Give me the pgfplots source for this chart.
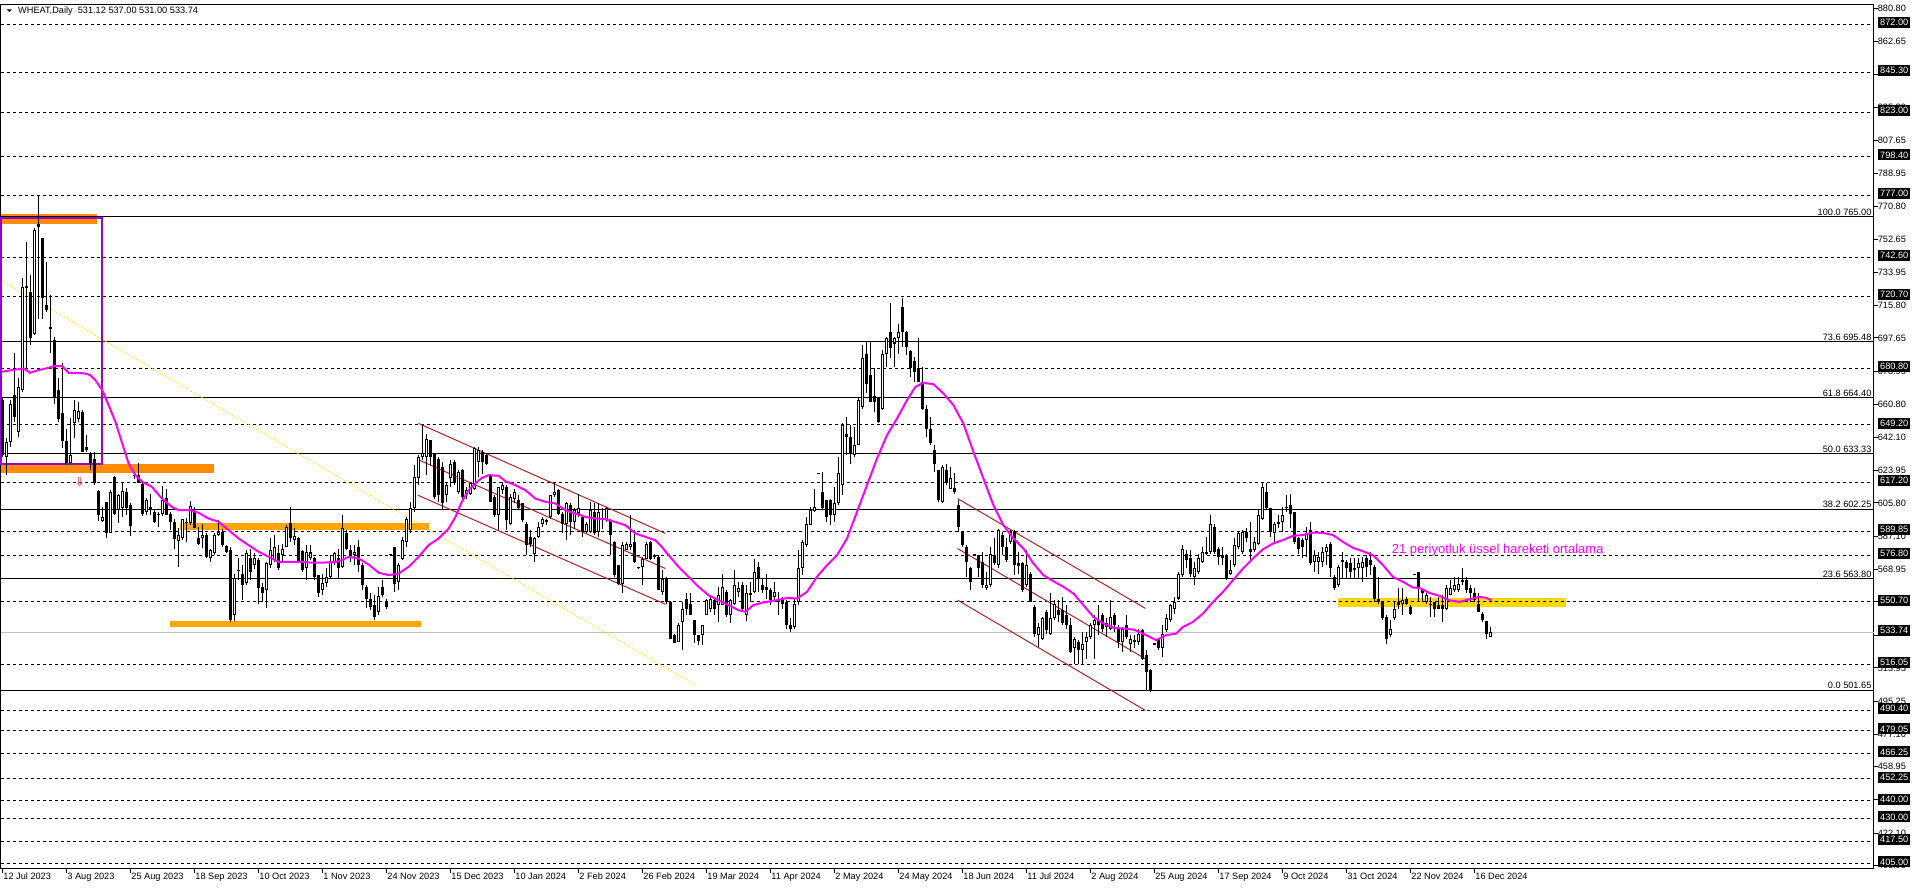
\documentclass[border=0pt]{standalone}
\usepackage{fontspec}
\setmainfont{Liberation Sans}
\newfontfamily\symfont{DejaVu Sans}
\usepackage{pgfplots}
\usepackage{pgfplotstable}
\pgfplotsset{compat=1.18}

\definecolor{ema}{HTML}{FF00FF}
\definecolor{dorange}{HTML}{FF8C00}
\definecolor{lorange}{HTML}{FFA500}
\definecolor{gold}{HTML}{FFD700}
\definecolor{purp}{HTML}{9400D3}
\definecolor{chan}{HTML}{B22222}
\definecolor{lastgray}{HTML}{C0C0C0}
\newcommand\lab{\fontsize{9.2}{10}\selectfont}
\tikzset{
  hline/.style={black, line width=1pt, dash pattern=on 3pt off 3pt},
  fibline/.style={black, line width=1pt},
  boxlab/.style={anchor=west, fill=black, text=white, font=\lab, inner xsep=2pt, inner ysep=0pt, minimum height=11pt, xshift=3pt},
  fiblab/.style={anchor=south east, inner sep=1pt, font=\lab, xshift=-1pt},
}

% daily candles: bar index, open, high, low, close
\pgfplotstableread{
i o h l c
0 663.0 663.9 631.5 632.4
1 631.5 642.0 621.6 639.8
2 639.8 663.0 637.0 661.1
3 665.8 689.0 650.9 653.7
4 645.4 675.1 642.6 670.4
5 668.6 730.7 667.6 726.0
6 726.4 751.1 680.6 725.5
7 723.3 732.6 693.6 697.3
8 699.7 758.5 699.2 757.6
9 760.8 777.1 708.0 759.5
10 753.3 753.3 708.4 719.6
11 716.2 740.0 712.2 713.1
12 702.7 721.4 689.0 703.8
13 696.4 698.2 661.1 663.9
14 668.6 675.1 650.9 652.4
15 655.9 683.4 636.1 640.4
16 640.2 647.2 626.8 627.8
17 627.8 652.8 626.8 632.4
18 650.0 663.0 641.7 657.4
19 652.4 662.1 650.9 656.9
20 656.5 657.4 633.9 634.2
21 636.7 643.5 634.2 635.5
22 633.3 634.0 624.0 627.8
23 630.5 634.2 615.7 616.6
24 612.3 612.9 595.7 599.0
25 595.7 603.6 595.4 598.1
26 606.4 606.4 586.0 589.3
27 589.3 612.9 588.8 612.0
28 620.3 620.5 599.0 599.9
29 601.8 611.0 594.4 610.1
30 602.7 617.6 598.1 612.3
31 611.6 614.2 599.0 602.7
32 604.6 605.5 587.5 593.1
33 620.5 622.0 619.0 620.8
34 621.3 628.1 616.6 616.6
35 616.1 616.6 598.6 599.9
36 600.9 608.3 599.0 607.3
37 603.6 611.0 599.0 601.8
38 600.9 601.8 594.4 594.9
39 599.9 600.9 592.5 599.0
40 599.4 615.3 598.6 607.3
41 608.3 613.8 599.0 599.0
42 599.6 600.9 590.7 595.4
43 594.9 597.1 580.4 585.6
44 584.5 591.6 570.2 587.9
45 586.4 597.1 585.1 596.8
46 595.4 597.5 583.8 594.4
47 594.4 606.8 593.4 604.2
48 600.5 603.6 591.6 591.6
49 586.4 592.5 582.3 583.2
50 586.4 593.8 580.8 588.2
51 588.2 588.8 574.9 575.8
52 575.3 580.4 573.0 579.5
53 577.7 588.8 576.7 587.9
54 588.2 596.2 587.5 589.7
55 589.7 591.0 581.5 582.3
56 581.7 582.3 577.7 578.2
57 579.5 581.4 539.6 540.6
58 543.3 566.5 540.0 563.8
59 567.8 574.9 562.8 568.4
60 566.5 571.2 551.7 560.0
61 561.0 579.5 560.0 577.7
62 574.9 580.4 562.8 567.5
63 571.2 578.0 569.0 575.3
64 574.0 574.9 549.8 558.2
65 559.1 561.0 550.8 555.4
66 557.3 573.0 547.4 572.1
67 571.2 586.0 569.3 579.5
68 574.0 587.9 573.0 581.4
69 577.7 582.3 568.4 569.3
70 576.7 583.2 573.0 580.4
71 581.4 593.4 581.4 592.5
72 594.4 603.6 584.2 586.0
73 585.1 591.6 582.3 587.5
74 586.4 586.9 572.1 573.0
75 579.0 579.5 567.5 568.4
76 569.3 582.3 562.8 578.6
77 575.3 582.3 574.0 578.2
78 574.9 575.8 562.8 564.7
79 565.6 565.6 553.5 555.4
80 557.3 566.5 554.5 561.0
81 561.0 569.3 559.1 564.7
82 564.7 576.7 563.8 573.0
83 572.1 578.6 571.2 577.7
84 575.3 580.4 563.8 569.3
85 570.2 599.0 569.3 591.6
86 588.8 590.7 579.5 580.4
87 579.5 582.3 573.0 576.7
88 576.7 582.3 571.2 578.6
89 581.4 585.1 567.5 571.2
90 571.2 572.1 557.3 560.0
91 559.1 560.0 547.1 552.6
92 552.6 555.4 546.0 548.0
93 548.9 554.5 540.6 542.4
94 545.2 559.1 543.3 554.1
95 559.1 562.8 553.5 554.4
96 551.1 552.6 547.0 547.9
97 576.9 577.5 576.2 576.7
98 581.3 581.5 556.3 560.9
99 561.9 572.1 557.2 571.1
100 574.8 586.9 573.9 585.0
101 584.1 598.0 581.3 597.1
102 590.6 606.4 588.8 602.7
103 602.7 626.8 600.8 620.3
104 619.4 632.4 615.7 631.4
105 631.4 649.0 629.6 633.3
106 631.4 644.4 621.2 641.6
107 640.7 641.0 626.8 631.4
108 633.3 633.5 608.2 609.2
109 630.5 631.4 606.4 610.1
110 625.8 628.6 601.7 605.5
111 610.1 616.6 606.4 615.7
112 619.4 629.6 614.7 627.7
113 628.6 629.6 615.7 616.6
114 612.0 624.0 611.0 623.1
115 624.0 624.9 608.2 609.2
116 610.1 614.7 608.2 612.9
117 611.0 617.5 610.1 616.6
118 613.8 637.0 612.9 636.1
119 628.6 637.0 620.3 635.1
120 634.2 635.1 622.1 628.6
121 632.4 633.3 626.8 627.7
122 621.2 622.1 606.4 606.4
123 609.2 610.1 598.0 599.0
124 599.0 614.7 590.6 614.7
125 612.9 617.5 611.0 615.7
126 614.7 615.7 590.6 596.2
127 594.3 611.0 593.4 609.2
128 608.2 613.8 605.5 612.0
129 607.3 610.1 601.7 602.7
130 605.5 605.5 595.2 596.2
131 594.3 595.2 576.7 582.3
132 586.9 590.6 581.3 583.2
133 577.6 586.9 573.0 586.0
134 586.9 595.2 586.0 592.5
135 594.3 598.0 592.5 597.1
136 596.2 597.1 593.4 595.0
137 598.0 610.1 597.1 610.1
138 610.1 617.5 609.2 612.0
139 612.9 613.8 599.0 599.9
140 599.9 600.8 588.8 594.3
141 594.3 606.4 585.0 605.5
142 604.5 605.5 587.8 595.2
143 595.2 602.7 591.5 601.7
144 599.9 611.0 598.0 602.7
145 598.0 599.0 586.9 589.7
146 589.7 595.2 588.8 594.3
147 589.7 606.4 588.8 601.7
148 600.8 605.5 587.8 588.8
149 589.7 605.5 586.9 600.8
150 597.1 602.7 591.5 596.2
151 596.2 603.6 595.2 602.7
152 596.2 597.1 576.7 587.8
153 584.1 584.5 564.6 565.6
154 571.1 571.5 560.0 560.9
155 560.9 584.1 555.4 582.3
156 579.5 584.1 579.5 583.2
157 581.3 599.0 579.5 583.2
158 584.1 590.6 572.1 573.0
159 569.5 569.8 569.0 569.3
160 570.2 575.8 560.0 574.8
161 574.8 584.1 574.8 583.2
162 584.1 584.5 573.9 574.8
163 576.7 577.6 574.8 575.8
164 575.8 576.7 557.2 557.2
165 556.3 568.4 554.4 563.7
166 563.7 564.6 549.8 550.7
167 550.7 551.1 530.3 530.3
168 532.2 533.0 528.1 528.1
169 528.5 538.7 528.5 537.7
170 539.6 550.7 523.8 547.0
171 552.6 555.4 543.3 547.0
172 549.8 555.4 543.3 543.3
173 540.5 540.5 528.1 532.2
174 532.2 532.5 527.0 528.8
175 532.2 537.7 526.6 537.7
176 543.3 552.6 543.3 551.6
177 547.0 553.5 545.2 552.6
178 551.6 552.6 543.3 547.0
179 548.9 559.1 539.6 554.4
180 548.9 566.5 548.9 559.1
181 556.3 557.2 542.4 543.3
182 543.3 552.6 538.7 551.6
183 549.8 568.4 548.9 560.0
184 556.3 561.9 553.5 558.2
185 560.0 561.9 545.2 547.0
186 543.3 560.0 540.0 555.4
187 554.4 561.9 550.7 555.4
188 556.3 574.8 555.4 567.4
189 570.2 573.0 556.3 563.7
190 560.0 563.7 555.4 557.2
191 559.1 566.5 552.6 557.2
192 557.2 558.2 548.9 551.7
193 553.5 561.9 551.7 556.3
194 551.7 556.3 543.3 550.7
195 552.6 553.5 547.0 549.8
196 550.7 551.7 535.9 537.7
197 537.7 541.5 534.0 535.9
198 536.8 552.6 535.9 549.8
199 550.7 579.5 548.9 569.3
200 569.3 585.1 565.6 584.1
201 582.3 598.0 581.3 594.3
202 593.4 603.6 593.4 601.8
203 601.2 613.8 600.8 603.6
204 622.0 622.4 621.8 622.2
205 611.9 623.1 602.4 602.7
206 607.3 607.3 595.3 598.0
207 607.3 608.2 593.4 599.0
208 599.0 614.7 595.3 605.5
209 605.5 631.4 604.5 622.2
210 615.7 650.0 610.1 649.0
211 644.4 653.7 632.4 642.6
212 642.6 649.0 627.7 633.3
213 632.4 648.1 631.4 637.9
214 637.9 663.9 637.9 663.0
215 659.3 693.6 658.3 686.2
216 688.9 695.4 666.7 672.2
217 676.9 695.4 662.0 662.0
218 665.4 680.6 656.5 661.7
219 663.9 664.8 650.0 650.9
220 658.3 690.8 657.4 688.9
221 688.9 698.2 681.5 697.3
222 701.0 716.8 686.2 692.1
223 694.5 698.2 681.5 697.3
224 697.6 705.6 688.9 701.0
225 714.9 719.9 692.6 701.0
226 701.0 701.4 688.0 692.6
227 690.2 690.8 675.9 680.6
228 684.7 687.1 673.2 678.7
229 681.0 697.6 673.2 673.2
230 673.2 681.5 657.4 658.3
231 658.3 660.2 642.6 647.2
232 647.2 653.7 637.9 639.4
233 635.1 637.9 623.1 627.7
234 624.0 624.0 606.4 607.3
235 606.4 626.8 605.5 625.9
236 624.0 627.2 615.7 616.6
237 613.8 625.9 613.8 619.4
238 614.2 622.2 611.0 611.9
239 604.5 607.3 589.7 592.5
240 589.7 589.7 581.3 582.3
241 581.3 582.3 564.7 573.0
242 569.3 570.2 557.2 561.9
243 576.9 577.0 576.5 576.7
244 576.7 576.7 564.7 569.3
245 573.0 578.6 558.2 560.0
246 558.2 567.4 557.2 560.0
247 560.0 581.3 559.1 577.6
248 576.7 586.0 571.1 572.1
249 571.1 591.5 569.3 590.6
250 587.8 589.7 576.7 581.3
251 581.3 586.0 573.0 573.9
252 584.1 590.6 583.2 589.7
253 589.7 590.6 565.6 571.1
254 572.1 578.6 566.5 570.8
255 572.1 573.0 556.3 557.2
256 560.0 579.5 559.1 571.1
257 566.5 567.4 550.7 550.7
258 547.9 548.9 531.3 533.1
259 532.2 538.7 525.7 536.8
260 530.3 542.4 529.4 541.5
261 545.2 546.1 533.1 534.9
262 533.1 555.4 532.2 541.5
263 541.5 551.7 540.5 549.8
264 546.1 551.7 539.6 543.3
265 546.1 553.5 537.7 538.7
266 543.3 548.9 535.9 537.7
267 537.7 541.5 522.0 522.9
268 524.8 531.3 516.4 530.3
269 528.5 529.4 516.4 523.8
270 523.8 534.0 515.5 527.5
271 528.5 534.0 519.2 531.3
272 531.3 538.7 530.3 537.7
273 537.7 543.3 519.2 540.5
274 540.5 548.9 532.2 537.7
275 543.3 544.3 534.0 535.9
276 538.7 541.5 531.3 536.8
277 535.9 551.7 534.9 542.4
278 543.3 544.3 534.0 537.7
279 536.8 537.7 524.8 528.5
280 528.5 536.8 522.9 535.9
281 537.7 543.3 530.3 531.3
282 527.5 532.2 522.9 530.3
283 529.4 532.2 524.8 528.5
284 528.5 535.9 526.6 533.1
285 535.0 535.9 518.3 519.2
286 521.1 523.8 501.6 511.8
287 512.7 513.6 500.6 501.6
288 527.2 527.4 526.8 527.0
289 530.3 530.3 523.8 524.8
290 524.8 537.8 520.1 533.1
291 535.0 544.2 534.0 541.5
292 540.5 549.8 539.6 548.9
293 547.0 553.5 544.2 550.7
294 552.6 567.4 551.6 566.5
295 565.6 582.3 564.6 580.4
296 577.6 579.5 569.3 573.9
297 574.9 579.5 564.6 566.5
298 564.6 573.0 560.0 569.3
299 567.4 577.6 566.5 574.9
300 573.0 581.3 572.1 578.6
301 577.6 586.9 576.7 578.6
302 578.6 599.0 577.6 594.3
303 592.5 594.3 577.6 578.6
304 580.4 581.3 571.2 575.8
305 576.7 581.3 571.2 574.9
306 576.7 577.1 562.8 563.7
307 566.5 573.9 565.6 568.4
308 571.2 586.0 570.2 582.3
309 581.3 589.7 580.4 588.8
310 578.6 590.6 577.6 589.7
311 589.7 591.6 584.1 586.0
312 580.4 595.3 573.0 578.6
313 579.5 586.9 578.6 584.1
314 583.2 601.8 582.3 599.0
315 597.1 617.5 596.2 614.7
316 612.0 616.6 601.8 602.7
317 602.7 602.7 586.9 589.7
318 588.8 595.3 584.1 594.3
319 594.3 599.0 591.6 595.3
320 595.3 603.6 589.7 599.0
321 602.7 610.1 600.8 603.6
322 604.5 611.0 591.6 599.9
323 600.8 600.8 583.2 584.1
324 586.0 586.9 577.6 580.4
325 585.1 586.0 574.9 581.3
326 585.1 592.5 575.8 588.8
327 590.6 595.3 571.2 572.1
328 573.0 579.5 567.4 576.7
329 573.0 578.6 566.5 575.8
330 573.0 581.3 570.2 578.6
331 578.6 583.2 571.2 581.3
332 583.2 584.1 564.6 569.3
333 564.6 565.6 557.2 558.2
334 560.0 571.2 559.1 570.2
335 573.0 578.6 563.7 573.9
336 573.0 573.9 563.7 569.3
337 572.1 574.9 563.7 567.4
338 569.3 574.9 563.7 568.4
339 569.3 574.9 563.7 572.1
340 569.3 575.8 561.9 573.0
341 574.9 576.7 564.6 570.2
342 573.9 578.6 565.6 571.2
343 570.2 571.2 550.7 552.6
344 552.6 564.6 549.8 550.7
345 550.7 550.7 540.5 541.5
346 542.4 543.3 527.5 530.3
347 532.2 540.5 531.3 535.9
348 541.5 550.7 540.5 547.0
349 550.7 558.2 547.0 548.9
350 549.8 558.2 543.3 551.6
351 552.6 553.5 548.9 549.8
352 547.9 548.9 543.3 544.2
353 565.8 566.0 565.4 565.6
354 567.4 567.4 550.7 559.1
355 557.2 557.2 550.7 555.4
356 550.7 555.4 549.8 554.4
357 549.8 553.5 542.4 548.9
358 550.7 550.7 542.4 547.0
359 548.9 553.5 547.0 547.0
360 548.9 554.4 539.6 547.0
361 547.0 560.0 546.1 558.2
362 554.4 562.8 554.4 558.2
363 557.2 564.6 556.3 560.0
364 557.2 564.6 556.3 560.9
365 561.9 569.3 560.0 562.8
366 562.8 564.6 555.4 557.2
367 558.2 560.0 550.7 555.4
368 555.4 558.2 550.7 551.6
369 549.8 555.4 545.2 545.2
370 544.2 545.2 539.6 540.5
371 540.0 540.0 530.3 533.1
372 531.1 537.0 531.0 533.7
}\candles

\begin{document}
\begin{tikzpicture}[x=1pt,y=1pt]
\begin{axis}[
  at={(2.3,-2.3)}, anchor=north west,
  scale only axis, width=1872.7pt, height=864.4pt,
  xmin=-0.325, xmax=467.85, ymin=402.33, ymax=883.35,
  clip=false,
  axis line style={black, line width=1pt},
  tick style={black, line width=1pt},
  tick align=outside, major tick length=4pt,
  xtick pos=bottom, ytick pos=right,
  xtick={0,16,...,368},
  xticklabels={12 Jul 2023,3 Aug 2023,25 Aug 2023,18 Sep 2023,10 Oct 2023,1 Nov 2023,24 Nov 2023,15 Dec 2023,10 Jan 2024,2 Feb 2024,26 Feb 2024,19 Mar 2024,11 Apr 2024,2 May 2024,24 May 2024,18 Jun 2024,11 Jul 2024,2 Aug 2024,25 Aug 2024,17 Sep 2024,9 Oct 2024,31 Oct 2024,22 Nov 2024,16 Dec 2024},
  ytick={880.80,862.65,843.95,825.80,807.65,788.95,770.80,752.65,733.95,715.80,697.65,678.95,660.80,642.10,623.95,605.80,587.10,568.95,550.80,532.10,513.95,495.25,477.10,458.95,440.80,422.10,403.95},
  yticklabels={880.80,862.65,,825.80,807.65,788.95,770.80,752.65,733.95,715.80,697.65,678.95,660.80,642.10,623.95,605.80,587.10,568.95,,,513.95,495.25,477.10,458.95,,422.10,403.95},
  xticklabel style={anchor=north west, inner sep=0pt, font=\lab, xshift=1pt},
  yticklabel style={anchor=west, inner sep=0pt, font=\lab},
]
% zones
\addplot[fill=dorange, draw=none, forget plot] coordinates {(-0.2,760.8) (23.8,760.8) (23.8,766.3) (-0.2,766.3)} -- cycle;
\addplot[fill=dorange, draw=none, forget plot] coordinates {(-0.2,622.2) (52.9,622.2) (52.9,627.2) (-0.2,627.2)} -- cycle;
\addplot[fill=lorange, draw=none, forget plot] coordinates {(44.4,590.7) (106.6,590.7) (106.6,594.4) (44.4,594.4)} -- cycle;
\addplot[fill=lorange, draw=none, forget plot] coordinates {(41.9,536.9) (104.8,536.9) (104.8,539.9) (41.9,539.9)} -- cycle;
\addplot[fill=gold, draw=none, forget plot] coordinates {(333.9,547.6) (390.9,547.6) (390.9,552.8) (333.9,552.8)} -- cycle;

% horizontal levels
\pgfplotsinvokeforeach{872,845.3,823,798.4,777,742.6,720.7,680.8,649.2,617.2,589.85,576.8,550.7,516.05,490.4,479.05,466.25,452.25,440,430,417.5,405}{
  \addplot[hline, forget plot] coordinates {(-0.325,#1) (467.85,#1)};
}
\pgfplotsinvokeforeach{765,695.48,664.4,633.33,602.25,563.8,501.65}{
  \addplot[fibline, forget plot] coordinates {(-0.325,#1) (467.85,#1)};
}
\addplot[lastgray, line width=1pt, forget plot] coordinates {(-0.325,533.74) (467.85,533.74)};

% trend lines
\addplot[gold, line width=1pt, dash pattern=on 1pt off 2pt, forget plot] coordinates {(-0.08,729.4) (173.3,504.5)};
\addplot[chan, line width=1pt, forget plot] coordinates {(104.1,650.0) (165.8,588.8)};
\addplot[chan, line width=1pt, forget plot] coordinates {(103.7,630.1) (165.8,569.3)};
\addplot[chan, line width=1pt, forget plot] coordinates {(103.9,610.1) (165.8,549.4)};
\addplot[chan, line width=1pt, forget plot] coordinates {(238.85,608.2) (285.8,547.1)};
\addplot[chan, line width=1pt, forget plot] coordinates {(238.85,580.4) (285.8,519.0)};
\addplot[chan, line width=1pt, forget plot] coordinates {(238.85,551.7) (285.8,490.3)};
\addplot[purp, line width=2pt, forget plot] coordinates {(-0.3,764.4) (24.9,764.4) (24.9,627.2) (-0.3,627.2)} -- cycle;

% candles: wicks, bodies, white inside of rising bodies
\addplot[draw=none, forget plot, error bars/.cd, y dir=plus, y explicit, error mark=none,
  error bar style={draw=black, line width=1pt, solid}]
  table[x=i, y=l, y error plus expr={\thisrow{h}-\thisrow{l}}] {\candles};
\addplot[draw=none, forget plot, error bars/.cd, y dir=plus, y explicit, error mark=none,
  error bar style={draw=black, line width=3pt, solid}]
  table[x=i, y expr={min(\thisrow{o},\thisrow{c})}, y error plus expr={max(abs(\thisrow{c}-\thisrow{o}),0.6)}] {\candles};
\addplot[draw=none, forget plot, error bars/.cd, y dir=plus, y explicit, error mark=none,
  error bar style={draw=white, line width=1pt, solid}]
  table[x=i, y expr={\thisrow{o}+0.56}, y error plus expr={max(\thisrow{c}-\thisrow{o}-1.12,0)}] {\candles};

% 21 period EMA
\addplot[ema, line width=2pt, forget plot] coordinates {
(0,678.8)(2.4,679.7)(5.4,680.6)(7,678.2)(9,679.7)(11,680.6)(12.9,681.9)(15,681.9)(16.6,678.2)(18.3,678.2)
(20.8,677.8)(22,676.9)(23.3,674.1)(25,668.6)(26.6,660.2)(28.3,650.9)(30,638.9)(31.6,627.7)(33.3,621.3)
(35,617.5)(37.4,614.8)(39.9,608.3)(42.4,603.6)(44.1,601.8)(47,601.8)(49.1,600.3)(51.6,597.1)(54.1,595.3)
(56.6,590.7)(59.1,586.0)(61.6,582.3)(64.1,578.6)(66.6,575.8)(69.1,573.0)(72.4,573.0)(75,573.0)(77.4,572.5)
(80,572.5)(83.3,573.0)(85,574.0)(86.6,575.8)(89.1,574.9)(91.6,571.5)(94.1,567.0)(96.6,565.6)(99.1,566.5)
(101.6,570.2)(104.1,575.8)(106.6,582.3)(109.1,586.0)(111.6,591.5)(113.3,598.0)(114.9,606.4)(116.6,612.9)
(118.3,616.6)(119.9,619.7)(121.6,621.2)(124.1,620.9)(125.8,617.9)(128.3,615.7)(130.8,612.9)(133.3,608.2)
(135.8,606.4)(138.3,605.5)(140.8,601.7)(143.3,599.9)(145.8,598.0)(148.3,597.1)(150.8,596.7)(153.3,595.2)
(155.8,593.4)(158.3,588.8)(160.8,586.9)(163.3,585.0)(164.9,581.3)(166.6,576.7)(169.1,570.2)(171.6,564.6)
(174.1,559.1)(176.6,554.4)(179.1,551.6)(181.6,548.9)(184.1,546.1)(185.8,545.2)(187.8,548.9)(190.3,550.4)
(193.7,551.7)(196.2,552.9)(198.7,552.6)(201.2,556.3)(203.7,564.7)(206.2,571.1)(208.7,576.7)(211.2,586.0)
(213.7,600.8)(216.2,615.7)(218.7,630.5)(221.2,643.5)(223.7,652.8)(226.2,663.0)(228.3,670.4)(230.3,672.6)
(232.8,671.9)(235.3,666.7)(237.8,660.2)(240.3,650.0)(242.8,634.2)(245.3,619.4)(247.8,604.5)(250.3,593.4)
(252.8,586.0)(255.3,580.4)(257.8,572.1)(260.3,565.6)(262.8,562.2)(265.3,559.1)(267.8,555.4)(270.3,548.9)
(272.8,542.4)(275.3,538.7)(277.8,536.3)(280.3,535.9)(282.8,535.3)(284.3,534.0)(286.8,531.3)(288.5,529.4)
(291,532.2)(293.5,533.1)(295.2,536.8)(297.7,539.6)(300.2,544.2)(302.7,550.7)(305.2,556.3)(307.7,562.8)
(310.2,569.3)(312.7,574.9)(315.2,580.0)(317.7,583.2)(320.2,585.1)(322.7,587.5)(325.2,587.9)(327.7,589.3)
(330.2,589.1)(332.7,587.9)(335.2,584.1)(337.7,580.8)(340.2,578.9)(342.7,576.7)(345.2,571.2)(347.7,564.6)
(350.2,561.9)(352.7,558.7)(354.3,558.5)(356.8,555.7)(359.3,554.1)(361.8,551.6)(364.3,550.7)(366.8,552.2)
(369.3,553.5)(371,553.0)(372.3,551.6)
};

% annotations
\node[text=red!85!white, font=\symfont\fontsize{12}{12}\selectfont, inner sep=0pt] at (axis cs:19.35,617.5) {⇩};
\node[anchor=west, text=ema, font=\fontsize{13}{14}\selectfont, inner sep=0pt] at (axis cs:347.35,579.4) {21 periyotluk üssel hareketi ortalama};
\node[fiblab] at (axis cs:467.85,765) {100.0 765.00};
\node[fiblab] at (axis cs:467.85,695.48) {73.6 695.48};
\node[fiblab] at (axis cs:467.85,664.4) {61.8 664.40};
\node[fiblab] at (axis cs:467.85,633.33) {50.0 633.33};
\node[fiblab] at (axis cs:467.85,602.25) {38.2 602.25};
\node[fiblab] at (axis cs:467.85,563.8) {23.6 563.80};
\node[fiblab] at (axis cs:467.85,501.65) {0.0 501.65};
\end{axis}
% price boxes on the right scale, drawn over the tick labels
\foreach \p/\t in {872.00/872.00,845.30/845.30,823.00/823.00,798.40/798.40,777.00/777.00,742.60/742.60,720.70/720.70,680.80/680.80,649.20/649.20,617.20/617.20,589.85/589.85,576.80/576.80,550.70/550.70,533.74/533.74,516.05/516.05,490.40/490.40,479.05/479.05,466.25/466.25,452.25/452.25,440.00/440.00,430.00/430.00,417.50/417.50,405.00/405.00}{
  \node[boxlab] at (1875,{-2.3-(883.35-\p)*1.79701}) {\t};
}
\fill (6.7,-9.3) -- (12,-9.3) -- (9.35,-12) -- cycle;
\node[anchor=west, inner sep=0pt, font=\lab] at (18,-10.7) {WHEAT,Daily\ \ 531.12 537.00 531.00 533.74};
\pgfresetboundingbox
\path[use as bounding box] (0,0) rectangle (1916,-888);
\end{tikzpicture}
\end{document}
